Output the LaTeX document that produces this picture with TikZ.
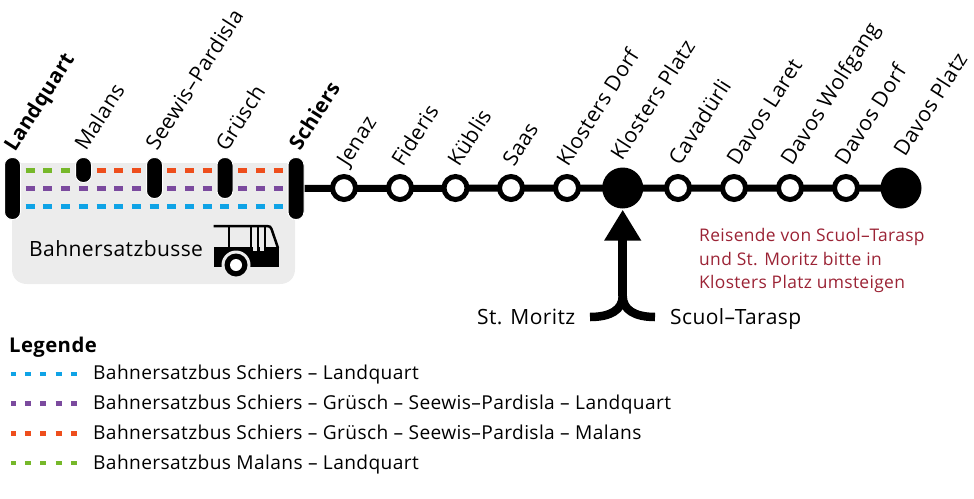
\documentclass[tikz,border=0pt]{standalone}
\usepackage{fontspec}
\usetikzlibrary{arrows.meta}
\setmainfont[LetterSpace=2]{Open Sans}
\definecolor{cblue}{HTML}{0FA3E6}
\definecolor{cpurple}{HTML}{7B4A9E}
\definecolor{corange}{HTML}{EE4E1C}
\definecolor{cgreen}{HTML}{76B82A}
\definecolor{cred}{HTML}{9B2335}
\definecolor{cgrey}{HTML}{ECECEC}
\tikzset{
  barnode/.style={fill=black,draw=white,line width=1pt,rounded corners=7.5pt,minimum width=16pt,inner sep=0pt},
  dashline/.style={line width=5pt,dash pattern=on 9pt off 8.7pt},
  legdash/.style={line width=4.5pt,dash pattern=on 6pt off 9.4pt,dash phase=1.5pt},
  stopnode/.style={circle,draw=black,fill=white,line width=5pt,minimum size=23pt,inner sep=0pt},
  hubnode/.style={circle,fill=black,minimum size=41pt,inner sep=0pt},
  stn/.style={rotate=57.5,anchor=base west,font=\fontsize{21.2pt}{22pt}\selectfont,inner sep=0pt},
  stnb/.style={stn,font=\fontsize{20.6pt}{22pt}\selectfont\bfseries},
  txt/.style={anchor=base west,font=\fontsize{21pt}{22pt}\selectfont,inner sep=0pt},
  leg/.style={anchor=base west,font=\fontsize{19.15pt}{20pt}\selectfont,inner sep=0pt},
  redtxt/.style={anchor=base west,font=\fontsize{17.4pt}{20pt}\selectfont,inner sep=0pt,text=cred},
  track/.style={line width=7pt},
  branch/.style={line width=8.5pt}
}
\begin{document}
\begin{tikzpicture}[x=1pt,y=-1pt]
\useasboundingbox (0,0) rectangle (974,498);
% grey panel
\fill[cgrey] (12,163) -- (295,163) -- (295,269) .. controls (295,278) and (289,284) .. (280,284) -- (27,284) .. controls (18,284) and (12,278) .. (12,269) -- cycle;
% dashed rows
\coordinate (gA) at (25.7,170.5); \coordinate (gB) at (72,170.5);
\coordinate (oA) at (96.5,170.5); \coordinate (oB) at (283,170.5);
\coordinate (pA) at (25.7,188);  \coordinate (pB) at (283,188);
\coordinate (bA) at (25.7,206.7); \coordinate (bB) at (283,206.7);
\draw[dashline,cgreen] (gA) -- (gB);
\draw[dashline,corange] (oA) -- (oB);
\draw[dashline,cpurple] (pA) -- (pB);
\draw[dashline,cblue] (bA) -- (bB);
% main line
\node[barnode,minimum height=62pt] (lq) at (12.5,188.5) {};
\node[barnode,minimum height=25pt] (ma) at (83.5,170) {};
\node[barnode,minimum height=41pt] (se) at (154.5,178) {};
\node[barnode,minimum height=41pt] (gr) at (225,178) {};
\node[barnode,minimum height=62pt] (sc) at (296,188.5) {};
\node[hubnode] (kp) at (622.7,188) {};
\node[hubnode] (dp) at (901,188) {};
\draw[track] (sc.center) -- (kp.center) -- (dp.center);
\node[barnode,minimum height=62pt] at (sc) {};
\node[stopnode] (s1) at (344,188) {};
\node[stopnode] (s2) at (400,188) {};
\node[stopnode] (s3) at (455.5,188) {};
\node[stopnode] (s4) at (511,188) {};
\node[stopnode] (s5) at (567,188) {};
\node[stopnode] (s6) at (678,188) {};
\node[stopnode] (s7) at (734,188) {};
\node[stopnode] (s8) at (790,188) {};
\node[stopnode] (s9) at (846,188) {};
% station names
\node[stnb] (tlq) at (15,153) {Landquart};
\node[stn] (tma) at (86,152) {Malans};
\node[stn] (tse) at (157,152) {Seewis–Pardisla};
\node[stn] (tgr) at (227,153) {Grüsch};
\node[stnb] (tsc) at (300,152) {Schiers};
\node[stn] (t1) at (348,168) {Jenaz};
\node[stn] (t2) at (403,168) {Fideris};
\node[stn] (t3) at (459,168) {Küblis};
\node[stn] (t4) at (514,168) {Saas};
\node[stn] (t5) at (568,168) {Klosters Dorf};
\node[stn] (t6) at (622,162) {Klosters Platz};
\node[stn] (t7) at (680,167) {Cavadürli};
\node[stn] (t8) at (738,167) {Davos Laret};
\node[stn] (t9) at (792,167) {Davos Wolfgang};
\node[stn] (t10) at (846,167) {Davos Dorf};
\node[stn] (t11) at (905,158) {Davos Platz};
% panel label and bus
\node[txt] (bs) at (29,256.5) {Bahnersatzbusse};
\begin{scope}
\fill[black] (213.5,247) -- (278.5,247) -- (278.5,267) -- (213.5,267) -- cycle;
\draw[black,line width=2.5pt] (213.5,226) -- (267,226) .. controls (270,226) and (270.5,227) .. (271.5,229) -- (278,248);
\draw[black,line width=2.5pt] (229,226) -- (229,248);
\draw[black,line width=2.5pt] (251,226) -- (251,249);
\draw[black,line width=2.5pt] (258,226) -- (258,249);
\draw[black,line width=2.5pt] (265,226) -- (265,249);
\fill[cgrey] (253,247) rectangle (256.5,251);
\fill[cgrey] (260,247) rectangle (263.5,251);
\fill[cgrey] (236,265) circle[radius=14.5pt];
\fill[black] (236,265) circle[radius=11.5pt];
\fill[white] (236,265) circle[radius=6pt];
\end{scope}
% branch
\coordinate (jct) at (622.7,296);
\node[txt] (sm) at (477,324) {St. Moritz};
\node[txt] (st) at (670,324) {Scuol–Tarasp};
\coordinate (lend) at (590,317);
\coordinate (rend) at (655,317);
\draw[branch,-{Triangle[length=31pt,width=35pt]},shorten >=1pt] (jct) -- (kp.south);
\draw[branch] (lend) .. controls (610,317) and (622.7,310) .. (jct);
\draw[branch] (rend) .. controls (635,317) and (622.7,310) .. (jct);
% note
\node[redtxt] (n1) at (699,241) {Reisende von Scuol–Tarasp};
\node[redtxt] (n2) at (699,265) {und St. Moritz bitte in};
\node[redtxt] (n3) at (699,288) {Klosters Platz umsteigen};
% legend
\node[anchor=base west,inner sep=0pt,font=\fontsize{20.3pt}{22pt}\selectfont\bfseries] (lg) at (9,352) {Legende};
\coordinate (l1a) at (11,374); \coordinate (l1b) at (77,374);
\coordinate (l2a) at (11,403.5); \coordinate (l2b) at (77,403.5);
\coordinate (l3a) at (11,433.5); \coordinate (l3b) at (77,433.5);
\coordinate (l4a) at (11,463); \coordinate (l4b) at (77,463);
\draw[legdash,cblue] (l1a) -- (l1b);
\draw[legdash,cpurple] (l2a) -- (l2b);
\draw[legdash,corange] (l3a) -- (l3b);
\draw[legdash,cgreen] (l4a) -- (l4b);
\node[leg] (e1) at (93,379.5) {Bahnersatzbus Schiers – Landquart};
\node[leg] (e2) at (93,409.5) {Bahnersatzbus Schiers – Grüsch – Seewis–Pardisla – Landquart};
\node[leg] (e3) at (93,439.5) {Bahnersatzbus Schiers – Grüsch – Seewis–Pardisla – Malans};
\node[leg] (e4) at (93,469.5) {Bahnersatzbus Malans – Landquart};
\end{tikzpicture}
\end{document}
